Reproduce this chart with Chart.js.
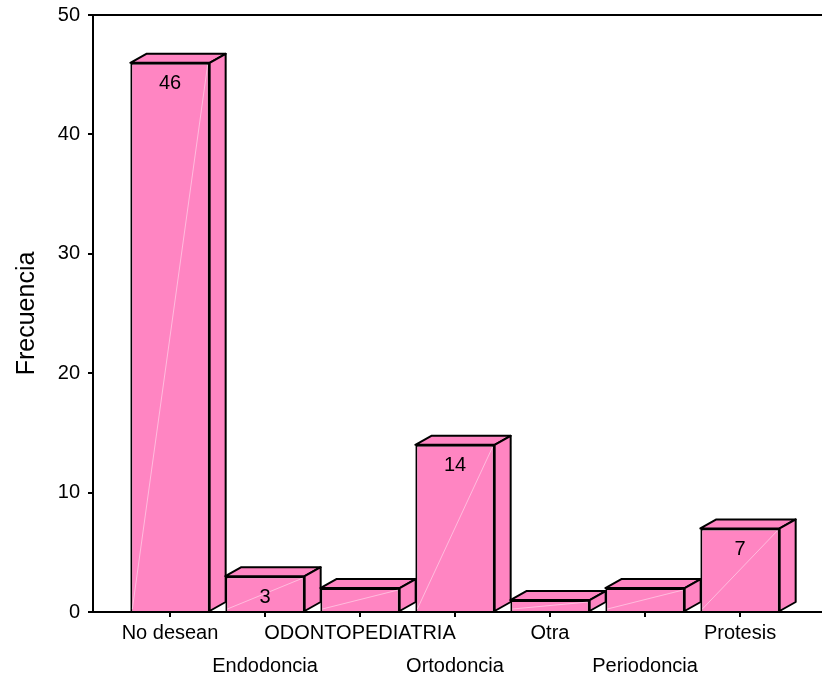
<!DOCTYPE html>
<html>
<head>
<meta charset="utf-8">
<script src="https://cdn.jsdelivr.net/npm/chart.js@4/dist/chart.umd.min.js"></script>
<style>
  html, body { margin: 0; padding: 0; background: #fff; }
  #wrap { width: 822px; height: 682px; }
</style>
</head>
<body>
<div id="wrap"><canvas id="grafico"></canvas></div>
<script>
const categorias = ['No desean', 'Endodoncia', 'ODONTOPEDIATRIA', 'Ortodoncia', 'Otra', 'Periodoncia', 'Protesis'];
const frecuencias = [46, 3, 2, 14, 1, 2, 7];
const ticksY = [0, 10, 20, 30, 40, 50];

const rosa = '#ff85c2';
const fuente = "'Liberation Sans', Arial, sans-serif";

// caras superior y lateral de cada barra
const barras3d = {
  id: 'barras3d',
  beforeDatasetsDraw(chart) {
    const ctx = chart.ctx;
    const dx = 16, dy = 9;
    chart.getDatasetMeta(0).data.forEach(bar => {
      const l = bar.x - bar.width / 2, r = bar.x + bar.width / 2;
      const t = bar.y, b = bar.base;
      ctx.save();
      ctx.fillStyle = rosa;
      ctx.strokeStyle = '#000';
      ctx.lineWidth = 2;
      ctx.lineJoin = 'round';
      ctx.beginPath();
      ctx.moveTo(l, t); ctx.lineTo(l + dx, t - dy); ctx.lineTo(r + dx, t - dy); ctx.lineTo(r, t);
      ctx.closePath(); ctx.fill(); ctx.stroke();
      ctx.beginPath();
      ctx.moveTo(r, t); ctx.lineTo(r + dx, t - dy); ctx.lineTo(r + dx, b - dy); ctx.lineTo(r, b);
      ctx.closePath(); ctx.fill(); ctx.stroke();
      ctx.restore();
    });
  },
  afterDatasetsDraw(chart) {
    const ctx = chart.ctx;
    const meta = chart.getDatasetMeta(0);
    ctx.save();
    meta.data.forEach((bar, i) => {
      const l = bar.x - bar.width / 2, r = bar.x + bar.width / 2;
      // reflejo tenue
      ctx.strokeStyle = 'rgba(255,255,255,0.45)';
      ctx.lineWidth = 1;
      ctx.beginPath();
      ctx.moveTo(l + 2, bar.base - 2); ctx.lineTo(r - 2, bar.y + 2);
      ctx.stroke();
      if (frecuencias[i] >= 3) {
        ctx.fillStyle = '#000';
        ctx.font = '20px ' + fuente;
        ctx.textAlign = 'center';
        ctx.textBaseline = 'middle';
        ctx.fillText(String(frecuencias[i]), bar.x, bar.y + 21);
      }
    });
    // borde superior
    const a = chart.chartArea;
    ctx.strokeStyle = '#000';
    ctx.lineWidth = 2;
    ctx.beginPath();
    ctx.moveTo(a.left, a.top); ctx.lineTo(a.right, a.top);
    ctx.stroke();
    ctx.restore();
  }
};

new Chart(document.getElementById('grafico'), {
  type: 'bar',
  data: {
    datasets: [{
      data: frecuencias.map((v, i) => ({ x: i, y: v })),
      backgroundColor: rosa,
      borderColor: '#000',
      borderWidth: 2,
      barPercentage: 0.835,
      categoryPercentage: 1
    }]
  },
  options: {
    responsive: true,
    maintainAspectRatio: false,
    animation: false,
    layout: { padding: { top: 15, right: 0, left: 0, bottom: 0 } },
    plugins: { legend: { display: false }, tooltip: { enabled: false } },
    scales: {
      x: {
        type: 'linear',
        offset: false,
        min: -0.8105,
        max: 6.863,
        afterFit: s => { s.height = 70; },
        grid: { offset: false, drawOnChartArea: false, tickLength: 5, color: '#000', lineWidth: 2 },
        border: { color: '#000', width: 2 },
        ticks: {
          stepSize: 1,
          includeBounds: false,
          autoSkip: false,
          maxRotation: 0,
          padding: 0,
          color: '#000',
          font: { family: fuente, size: 20, lineHeight: 1.65 },
          callback: v => {
            if (!Number.isInteger(v) || v < 0 || v >= categorias.length) return '';
            return v % 2 === 0 ? categorias[v] : ['', categorias[v]];
          }
        }
      },
      y: {
        min: 0,
        max: 50,
        afterFit: s => { s.width = 93; s.paddingTop = 0; s.paddingBottom = 0; },
        afterBuildTicks: s => { s.ticks = ticksY.map(v => ({ value: v })); },
        grid: { drawOnChartArea: false, tickLength: 5, color: '#000', lineWidth: 2 },
        border: { color: '#000', width: 2 },
        title: {
          display: true,
          text: 'Frecuencia',
          color: '#000',
          font: { family: fuente, size: 25 },
          padding: { top: 12, bottom: 0 }
        },
        ticks: {
          padding: 8,
          color: '#000',
          font: { family: fuente, size: 20 }
        }
      }
    }
  },
  plugins: [barras3d]
});
</script>
</body>
</html>
